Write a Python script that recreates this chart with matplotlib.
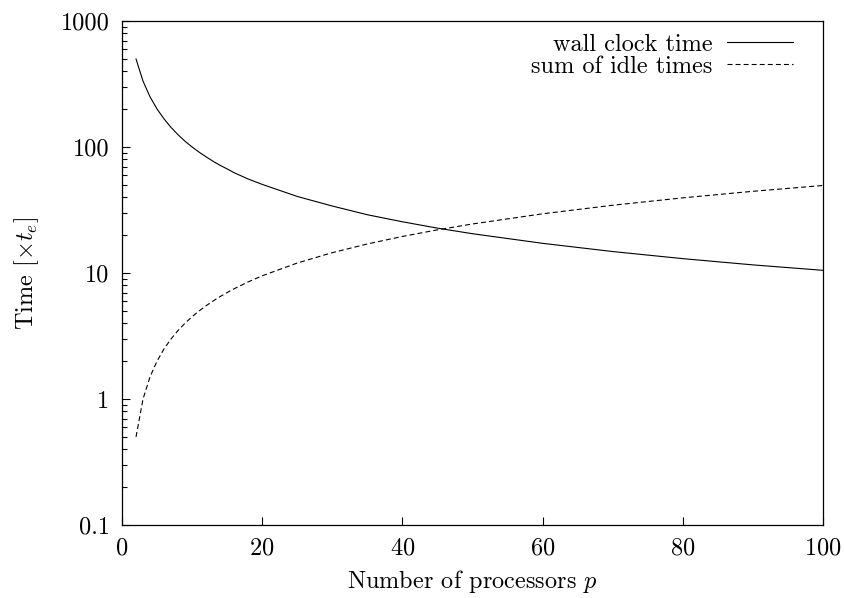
import numpy as np
import matplotlib
matplotlib.use("Agg")
import matplotlib.pyplot as plt
from matplotlib.ticker import FuncFormatter, FixedLocator, NullFormatter

plt.rcParams['font.family'] = 'serif'
plt.rcParams['font.serif'] = ['cmr10']
plt.rcParams['mathtext.fontset'] = 'cm'
plt.rcParams['axes.formatter.use_mathtext'] = True

# values
p = [2, 3, 4, 5, 6, 7, 8, 9, 10, 11, 12, 13, 14, 15, 16, 18, 20, 25, 30, 35, 40,
     45, 50, 60, 70, 80, 90, 100]
wall = [500, 333, 250, 200, 167, 143, 125, 111, 100, 91, 83.5, 77, 71.5, 67,
        62.5, 55.7, 50.5, 40.5, 34, 29, 25.5, 22.7, 20.5, 17.2, 14.8, 13, 11.6, 10.5]
idle = [0.5, 1, 1.5, 2, 2.5, 3, 3.5, 4, 4.5, 5, 5.5, 6, 6.5, 7, 7.5, 8.5, 9.5,
        12, 14.5, 17, 19.5, 22, 24.5, 29.5, 34.5, 39.5, 44.5, 49.5]
x_ticks = [0, 20, 40, 60, 80, 100]
y_ticks = [0.1, 1, 10, 100, 1000]

fs = 17.5
fig = plt.figure(figsize=(8.44, 5.98), dpi=100)
ax = fig.add_axes([122/844, 1 - 525/598, (823-122)/844, (525-21)/598])

ax.plot(p, wall, color='black', lw=0.8, label='wall clock time')
ax.plot(p, idle, color='black', lw=0.8, linestyle=(0, (4.5, 2.75)), label='sum of idle times')

ax.set_yscale('log')
ax.set_xlim(0, 100)
ax.set_ylim(0.1, 1000)
ax.xaxis.set_major_locator(FixedLocator(x_ticks))
ax.yaxis.set_major_locator(FixedLocator(y_ticks))
minor = [d * m for d in y_ticks[:-1] for m in range(2, 10)]
ax.yaxis.set_minor_locator(FixedLocator(minor))
ax.yaxis.set_major_formatter(FuncFormatter(lambda v, _: '%g' % v))
ax.yaxis.set_minor_formatter(NullFormatter())
ax.tick_params(which='both', direction='in', labelsize=fs, top=False, right=False)
ax.tick_params(which='major', length=6, width=0.8, pad=9)
ax.tick_params(which='minor', length=3.5, width=0.8)
for s in ax.spines.values():
    s.set_linewidth(0.9)

ax.set_xlabel('Number of processors $p$', fontsize=fs, labelpad=6)
ax.set_ylabel(r'Time $[\times t_e]$', fontsize=fs, labelpad=14)

ax.legend(loc='upper right', bbox_to_anchor=(0.957, 0.975), frameon=False,
          markerfirst=False, fontsize=fs, handlelength=2.7, handletextpad=0.6,
          labelspacing=0.0, borderpad=0, borderaxespad=0)

fig.savefig('out.png', dpi=100)
